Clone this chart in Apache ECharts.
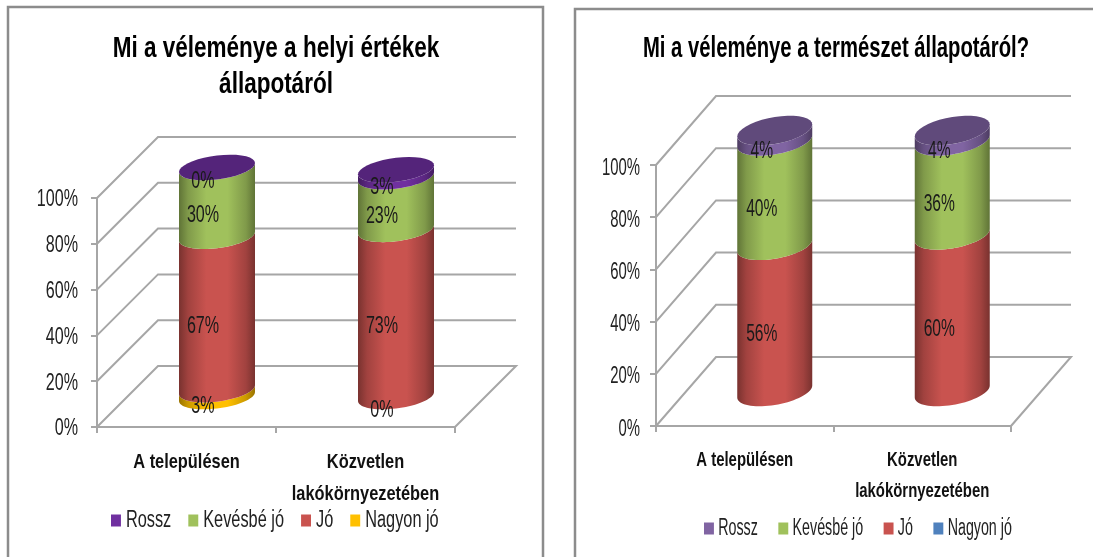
<!DOCTYPE html>
<html><head><meta charset="utf-8">
<style>html,body{margin:0;padding:0;background:#fff;overflow:hidden}#c{width:1093px;height:557px}</style>
<script src="https://cdn.jsdelivr.net/npm/echarts@6/dist/echarts.min.js"></script>
</head><body><div id="c"></div>
<script>
const categories = ['A településen', 'Közvetlen\nlakókörnyezetében'];
const seriesNames = ['Nagyon jó', 'Jó', 'Kevésbé jó', 'Rossz'];
const legendOrder = ['Rossz', 'Kevésbé jó', 'Jó', 'Nagyon jó'];
const yTicks = [0, 20, 40, 60, 80, 100];

const leftNagyon = [3, 0];
const leftJo = [67, 73];
const leftKevesbe = [30, 23];
const leftRossz = [0, 3];

const rightNagyon = [0, 0];
const rightJo = [56, 60];
const rightKevesbe = [40, 36];
const rightRossz = [4, 4];

const FONT = '"Liberation Sans",sans-serif';
const chart = echarts.init(document.getElementById('c'));

function shade(hex, f) {
  const n = parseInt(hex.slice(1), 16);
  const c = [(n >> 16) & 255, (n >> 8) & 255, n & 255].map(v => Math.round(v * f));
  return 'rgb(' + c.join(',') + ')';
}
function sideFill(hex) {
  return new echarts.graphic.LinearGradient(0, 0, 1, 0, [
    {offset: 0, color: shade(hex, 0.6)},
    {offset: 0.12, color: shade(hex, 0.8)},
    {offset: 0.36, color: shade(hex, 1)},
    {offset: 0.64, color: shade(hex, 1)},
    {offset: 0.88, color: shade(hex, 0.8)},
    {offset: 1, color: shade(hex, 0.6)}
  ]);
}
function arc(cx, cy, r, k, b, from, to) {
  const pts = [];
  const N = 36;
  for (let i = 0; i <= N; i++) {
    const t = from + (to - from) * i / N;
    pts.push([cx + r * Math.cos(t), cy - k * Math.cos(t) + b * Math.sin(t)]);
  }
  return pts;
}

const options = {animation: false, backgroundColor: '#fff', title: [], grid: [], xAxis: [], yAxis: [], legend: [], series: [],
  graphic: [
    {type: 'rect', shape: {x: 8, y: 7, width: 535, height: 600}, style: {fill: 'none', stroke: '#8c8c8c', lineWidth: 2.5}, silent: true, z: -1},
    {type: 'rect', shape: {x: 575, y: 9, width: 600, height: 600}, style: {fill: 'none', stroke: '#8c8c8c', lineWidth: 2.5}, silent: true, z: -1}
  ]};

function addChart(idx, cfg, stacks) {
  options.title.push({text: cfg.title, left: cfg.titleX, top: cfg.titleY, textAlign: 'center',
    textStyle: {fontFamily: FONT, fontWeight: 'bold', fontSize: 30, lineHeight: 36, color: '#000'}});
  options.grid.push({left: cfg.g[0], top: cfg.g[1], width: cfg.g[2], height: cfg.g[3]});
  options.xAxis.push({type: 'category', gridIndex: idx, data: categories,
    axisLine: {lineStyle: {color: '#a6a6a6', width: 2}},
    axisTick: {show: true, length: 6, lineStyle: {color: '#a6a6a6', width: 2}},
    axisLabel: {interval: 0, margin: 19, color: '#111', fontFamily: FONT, fontWeight: 'bold', fontSize: 21, lineHeight: cfg.xLine}});
  options.yAxis.push({type: 'value', gridIndex: idx, min: 0, max: 100, interval: 20,
    axisLine: {show: true, lineStyle: {color: '#a6a6a6', width: 2}},
    axisTick: {show: true, length: 6, lineStyle: {color: '#a6a6a6', width: 2}},
    splitLine: {show: false},
    axisLabel: {formatter: '{value}%', margin: cfg.yMargin, color: '#222', fontFamily: FONT, fontSize: cfg.ySize}});
  options.legend.push({
    data: legendOrder.map(n => ({name: n, itemStyle: {color: cfg.colors[seriesNames.indexOf(n)]}})),
    left: cfg.legendX, top: cfg.legendY, width: 900, icon: 'rect', itemWidth: cfg.swatchW, itemHeight: 12,
    itemGap: cfg.legendGap, selectedMode: false, padding: 0,
    textStyle: {fontFamily: FONT, fontSize: 23, color: '#222', padding: [0, 0, 0, 2]}});

  // back wall gridlines and floor
  options.series.push({type: 'custom', name: 'wall' + idx, xAxisIndex: idx, yAxisIndex: idx, silent: true, z: 1,
    encode: {x: 0, y: 1}, data: yTicks.map(v => [0, v]),
    renderItem(p, api) {
      const v = api.value(1), cs = p.coordSys;
      const y = api.coord([0, v])[1];
      const pts = [[cs.x, y], [cs.x + cfg.dx, y - cfg.dy], [cs.x + cs.width + cfg.dx, y - cfg.dy]];
      if (v === 0) pts.push([cs.x + cs.width, y]);
      return {type: 'polyline', shape: {points: pts}, style: {stroke: '#a6a6a6', lineWidth: 2, fill: 'none'}};
    }});

  // cylinder segments, bottom first
  const base = categories.map(() => 0);
  const labels = [];
  seriesNames.forEach((name, si) => {
    const isTop = si === seriesNames.length - 1;
    const data = stacks[si].map((val, ci) => {
      const row = [ci, base[ci], base[ci] + val];
      if (val > 0 || cfg.showZero) labels.push([ci, base[ci] + val / 2, val]);
      base[ci] += val;
      return row;
    });
    const color = cfg.colors[si];
    options.series.push({type: 'custom', name, xAxisIndex: idx, yAxisIndex: idx, silent: true, z: 2 + si,
      itemStyle: {color}, encode: {x: 0, y: [1, 2]}, data,
      renderItem(p, api) {
        const ci = api.value(0);
        const p0 = api.coord([ci, api.value(1)]), p1 = api.coord([ci, api.value(2)]);
        const cx = p0[0] + cfg.dx / 2;
        const y0 = p0[1] - cfg.dy / 2, y1 = p1[1] - cfg.dy / 2;
        const children = [];
        if (y0 - y1 > 0.01) {
          const lower = arc(cx, y0, cfg.r, cfg.k, cfg.b, Math.PI, 0);
          const upper = arc(cx, y1, cfg.r, cfg.k, cfg.b, 0, Math.PI);
          children.push({type: 'polygon', shape: {points: lower.concat(upper)}, style: {fill: sideFill(color)}});
        }
        if (isTop) {
          children.push({type: 'polygon', shape: {points: arc(cx, y1, cfg.r, cfg.k, cfg.b, 0, Math.PI * 2)}, style: {fill: cfg.cap}});
        }
        return {type: 'group', children};
      }});
  });

  // data labels
  options.series.push({type: 'custom', name: 'labels' + idx, xAxisIndex: idx, yAxisIndex: idx, silent: true, z: 20,
    encode: {x: 0, y: 1}, data: labels,
    renderItem(p, api) {
      const pt = api.coord([api.value(0), api.value(1)]);
      return {type: 'text', x: pt[0] + cfg.dx / 2 + cfg.labelDx, y: pt[1] - cfg.dy / 2 + cfg.labelDy, scaleX: cfg.dataScale,
        style: {text: api.value(2) + '%', fill: '#1a1a1a', fontFamily: FONT, fontSize: cfg.dataSize, align: 'center', verticalAlign: 'middle'}};
    }});
}

const leftCfg = {title: 'Mi a véleménye a helyi értékek\nállapotáról', titleX: 271, titleY: 26, titleScale: 0.75,
  g: [97, 198, 358, 229], dx: 61, dy: 61, r: 38, k: 4.5, b: 12, labelDx: -14, labelDy: 14,
  colors: ['#ffc000', '#c9534f', '#a0c15c', '#7030a0'], cap: '#54247a', showZero: true,
  yMargin: 19, ySize: 23, yScale: 0.7, yNudge: 2, xScale: 0.78, xLine: 32, dataSize: 23, dataScale: 0.7,
  legendX: 111, legendY: 509, legendGap: 24, swatchW: 14, legendScale: 0.71};
const rightCfg = {title: 'Mi a véleménye a természet állapotáról?', titleX: 831, titleY: 26, titleScale: 0.675,
  g: [656, 165, 355, 261], dx: 60, dy: 69, r: 37.5, k: 6, b: 13.5, labelDx: -13, labelDy: 16,
  colors: ['#4f81bd', '#c9534f', '#a0c15c', '#8064a2'], cap: '#604a7b', showZero: false,
  yMargin: 16, ySize: 24, yScale: 0.62, yNudge: 3, xScale: 0.71, xLine: 31, dataSize: 24, dataScale: 0.65,
  legendX: 704, legendY: 517, legendGap: 33, swatchW: 16, legendScale: 0.62};

addChart(0, leftCfg, [leftNagyon, leftJo, leftKevesbe, leftRossz]);
addChart(1, rightCfg, [rightNagyon, rightJo, rightKevesbe, rightRossz]);
chart.setOption(options);

// The reference uses a condensed face; narrow the library's own text horizontally.
const cfgs = [leftCfg, rightCfg];
(chart._componentsViews || []).forEach(view => {
  const m = view.__model;
  if (!m) return;
  const cfg = cfgs[m.componentIndex];
  const squeeze = (s, dy) => view.group.traverse(el => {
    if (el.type === 'text') { el.scaleX = s; el.y += dy; el.markRedraw(); }
  });
  if (m.mainType === 'title') squeeze(cfg.titleScale, 0);
  else if (m.mainType === 'xAxis') squeeze(cfg.xScale, 0);
  else if (m.mainType === 'yAxis') squeeze(cfg.yScale, cfg.yNudge);
  else if (m.mainType === 'legend') { view.group.scaleX = cfg.legendScale; view.group.markRedraw(); }
});
chart.getZr().refreshImmediately();
</script></body></html>
